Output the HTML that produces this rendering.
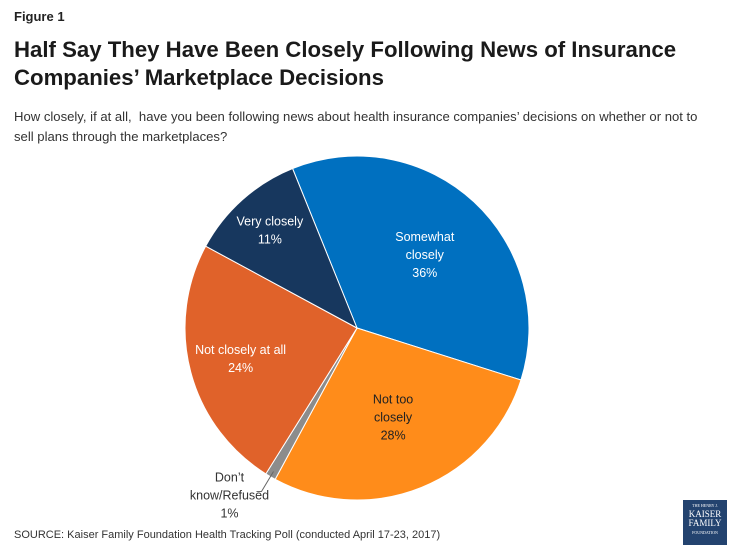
<!DOCTYPE html>
<html><head><meta charset="utf-8"><style>
body{margin:0;width:735px;height:551px;background:#fff;font-family:"Liberation Sans",sans-serif;position:relative;overflow:hidden}
.t{position:absolute;color:#222}
</style></head><body>
<div class="t" style="left:14px;top:9px;font-size:13px;font-weight:bold">Figure 1</div>
<div class="t" style="left:14px;top:36px;font-size:22.2px;font-weight:bold;line-height:28px;letter-spacing:0px;color:#1a1a1a">Half Say They Have Been Closely Following News of Insurance<br>Companies’ Marketplace Decisions</div>
<div class="t" style="left:14px;top:107px;font-size:13.1px;line-height:20px;color:#333">How closely, if at all,&nbsp; have you been following news about health insurance companies’ decisions on whether or not to<br>sell plans through the marketplaces?</div>
<svg id="pie" width="735" height="551" style="position:absolute;left:0;top:0" font-family="Liberation Sans, sans-serif" font-size="12.5"></svg>
<div class="t" style="left:14px;top:529px;font-size:11px;color:#333">SOURCE: Kaiser Family Foundation Health Tracking Poll (conducted April 17-23, 2017)</div>
<div style="position:absolute;left:683px;top:500px;width:44px;height:45px;background:#23436f;color:#fff;text-align:center;font-family:'Liberation Serif',serif;line-height:1">
<div style="font-size:4px;margin-top:4px">THE HENRY J.</div><div style="font-size:9px;margin-top:2px">KAISER</div><div style="font-size:9px">FAMILY</div><div style="font-size:4px;margin-top:3px">FOUNDATION</div></div>
<script>
const categories=["Somewhat closely","Not too closely","Don't know/Refused","Not closely at all","Very closely"];
const values=[36,28,1,24,11];
const colors=["#0070c0","#ff8c1a","#8c8c8c","#e0622a","#17375e"];
const labels=[["Somewhat","closely","36%"],["Not too","closely","28%"],[],["Not closely at all","24%"],["Very closely","11%"]];
const labelRadius=[0.58,0.56,0,0.7,0.76];
const cx=357,cy=328,r=172,start=-22;
const svg=document.getElementById('pie');const ns="http://www.w3.org/2000/svg";
const total=values.reduce((a,b)=>a+b,0);
function pt(a,rr){const t=a*Math.PI/180;return [cx+rr*Math.sin(t),cy-rr*Math.cos(t)];}
let a=start;
values.forEach((v,i)=>{
 const sweep=v/total*360,a2=a+sweep;
 const p1=pt(a,r),p2=pt(a2,r);
 const path=document.createElementNS(ns,'path');
 path.setAttribute('d',`M${cx},${cy}L${p1[0]},${p1[1]}A${r},${r} 0 ${sweep>180?1:0} 1 ${p2[0]},${p2[1]}Z`);
 path.setAttribute('fill',colors[i]);path.setAttribute('stroke','#fff');path.setAttribute('stroke-width','1');
 
 
 svg.appendChild(path);
 const mid=a+sweep/2;
 if(labels[i].length){
  const lp=pt(mid,r*labelRadius[i]);const n=labels[i].length;
  labels[i].forEach((s,j)=>{const t=document.createElementNS(ns,'text');
   t.setAttribute('x',lp[0]);t.setAttribute('y',lp[1]+(j-(n-1)/2)*18+4);
   t.setAttribute('text-anchor','middle');t.setAttribute('fill',i==1?'#222':'#fff');
   
   
   t.textContent=s;svg.appendChild(t);});
 } else {
  const e=pt(mid,r-6);
  const l=document.createElementNS(ns,'polyline');
  l.setAttribute('points',`${e[0]},${e[1]} ${e[0]-12},${e[1]+20} ${e[0]-17},${e[1]+20}`);
  l.setAttribute('fill','none');l.setAttribute('stroke','#666');
  
  
  svg.appendChild(l);
  ["Don’t","know/Refused",values[i]+"%"].forEach((s,j)=>{const t=document.createElementNS(ns,'text');
   t.setAttribute('x',e[0]-44);t.setAttribute('y',e[1]+10+j*18);t.setAttribute('text-anchor','middle');t.setAttribute('fill','#333');
   
   
   t.textContent=s;svg.appendChild(t);});
 }
 a=a2;
});
</script>
</body></html>
